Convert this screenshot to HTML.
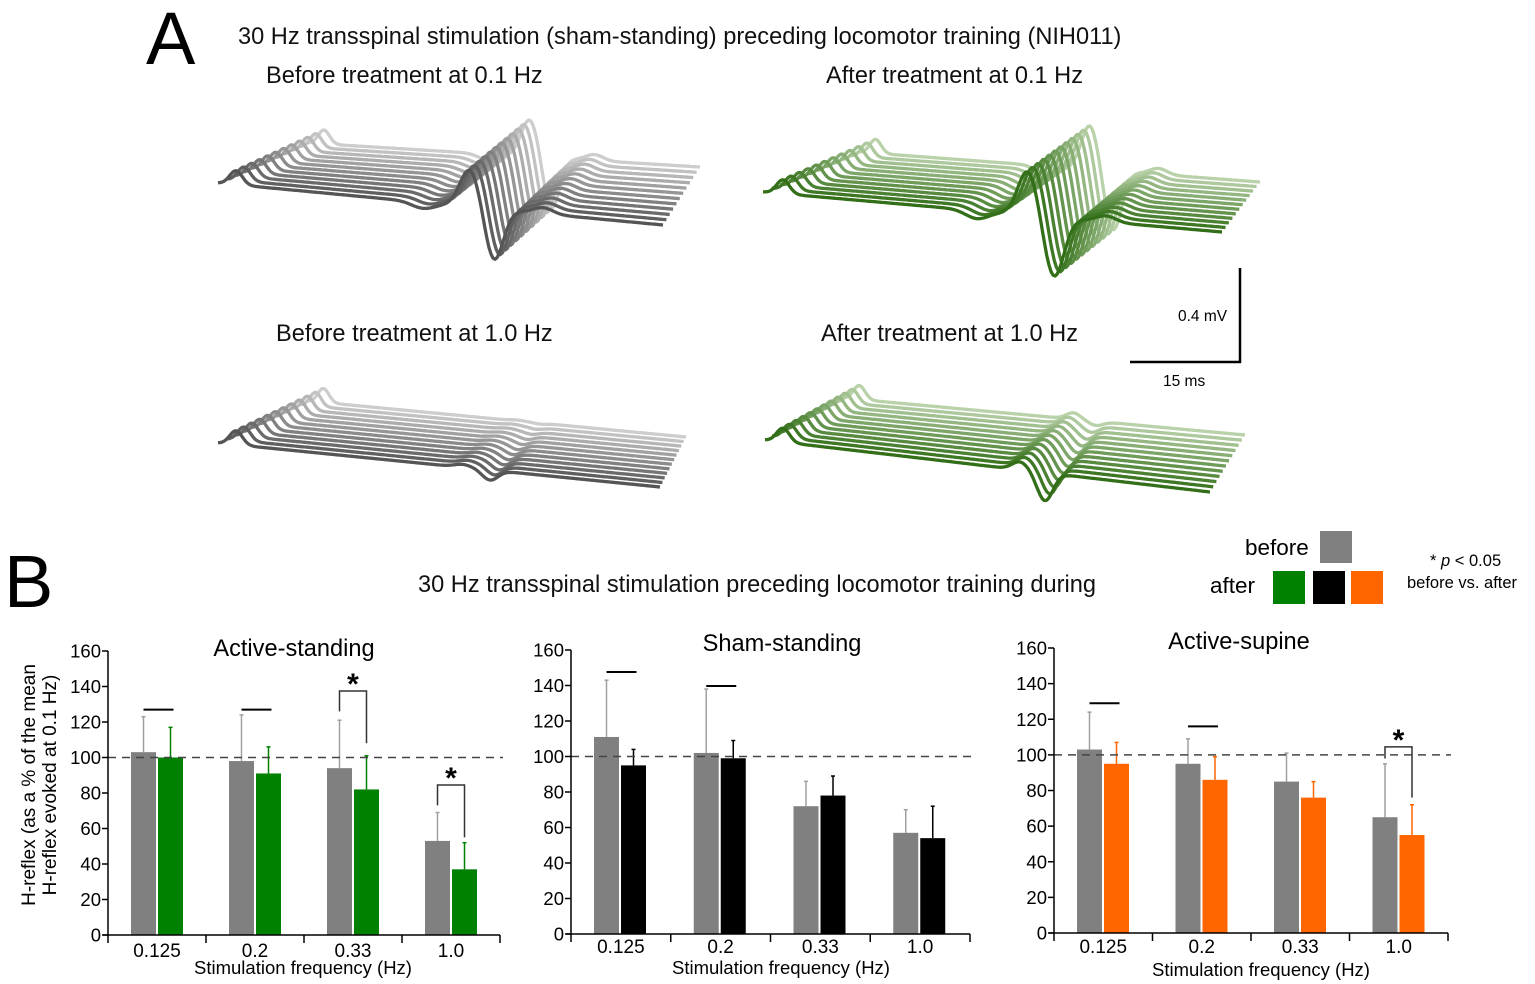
<!DOCTYPE html>
<html><head><meta charset="utf-8"><style>
html,body{margin:0;padding:0;background:#fff;}
svg{display:block;font-family:"Liberation Sans",Arial,sans-serif;}
</style></head><body>
<svg id="fig" width="1535" height="984" viewBox="0 0 1535 984" xmlns="http://www.w3.org/2000/svg">
<text x="146" y="64" font-size="74" fill="#000">A</text>
<text x="238" y="44" font-size="23.6" fill="#111">30 Hz transspinal stimulation (sham-standing) preceding locomotor training (NIH011)</text>
<text x="266" y="83" font-size="23.6" fill="#111">Before treatment at 0.1 Hz</text>
<text x="826" y="83" font-size="23.6" fill="#111">After treatment at 0.1 Hz</text>
<text x="276" y="341" font-size="23.6" fill="#111">Before treatment at 1.0 Hz</text>
<text x="821" y="341" font-size="23.6" fill="#111">After treatment at 1.0 Hz</text>
<g>
<line x1="1240" y1="268" x2="1240" y2="363" stroke="#000" stroke-width="2.5"/>
<line x1="1130" y1="362" x2="1241" y2="362" stroke="#000" stroke-width="2.5"/>
<text x="1178" y="321" font-size="15.5">0.4 mV</text>
<text x="1163" y="386" font-size="15.5">15 ms</text>
</g>
<g id="waves"></g>

<text x="4" y="607" font-size="74" fill="#000">B</text>
<text x="418" y="592" font-size="23.6" fill="#111">30 Hz transspinal stimulation preceding locomotor training during</text>
<g>
<text x="1245" y="555" font-size="22.5">before</text>
<rect x="1320" y="531" width="32" height="32" fill="#808080"/>
<text x="1210" y="593" font-size="22.5">after</text>
<rect x="1273" y="571" width="32" height="33" fill="#008000"/>
<rect x="1313" y="571" width="32" height="33" fill="#000"/>
<rect x="1351" y="571" width="32" height="33" fill="#ff6600"/>
<text x="1430" y="566" font-size="16.5">* <tspan font-style="italic">p</tspan> &lt; 0.05</text>
<text x="1407" y="588" font-size="16.5">before vs. after</text>
</g>
<g>
<text transform="translate(35,785) rotate(-90)" text-anchor="middle" font-size="19">H-reflex (as a % of the mean</text>
<text transform="translate(56,785) rotate(-90)" text-anchor="middle" font-size="19">H-reflex evoked at 0.1 Hz)</text>
</g>
<g id="charts"></g>
</svg>
<script>
const categories = ["0.125", "0.2", "0.33", "1.0"];
const yTickValues = [0, 20, 40, 60, 80, 100, 120, 140, 160];
const chartTitles = ["Active-standing", "Sham-standing", "Active-supine"];
const activeStandingBefore = [103, 98, 94, 53];
const activeStandingBeforeErr = [123, 124, 121, 69];
const activeStandingAfter = [100, 91, 82, 37];
const activeStandingAfterErr = [117, 106, 101, 52];
const shamStandingBefore = [111, 102, 72, 57];
const shamStandingBeforeErr = [143, 138, 86, 70];
const shamStandingAfter = [95, 99, 78, 54];
const shamStandingAfterErr = [104, 109, 89, 72];
const activeSupineBefore = [103, 95, 85, 65];
const activeSupineBeforeErr = [124, 109, 101, 95];
const activeSupineAfter = [95, 86, 76, 55];
const activeSupineAfterErr = [107, 99, 85, 72];
const activeStandingLines = [[0, 127], [1, 127]];
const shamStandingLines = [[0, 147.6], [1, 139.7]];
const activeSupineLines = [[0, 129], [1, 116]];
const activeStandingBrackets = [[2, 137.5, 126, 108], [3, 84.5, 73, 55]];
const shamStandingBrackets = [];
const activeSupineBrackets = [[3, 104.5, 98, 76]];

const NS = "http://www.w3.org/2000/svg";
function mk(parent, tag, attrs) {
  const e = document.createElementNS(NS, tag);
  for (const k in attrs) e.setAttribute(k, attrs[k]);
  parent.appendChild(e);
  return e;
}

const layouts = [
  {x0: 108, xe: 500, y0: 935, y160: 651, color: "#008000", titleX: 294, titleY: 656, xlabX: 303, xlabY: 974, catY: 957},
  {x0: 571, xe: 970, y0: 934, y160: 650, color: "#000000", titleX: 782, titleY: 651, xlabX: 781, xlabY: 974, catY: 953},
  {x0: 1054, xe: 1448, y0: 933, y160: 648, color: "#ff6600", titleX: 1239, titleY: 649, xlabX: 1261, xlabY: 976, catY: 953}
];
const befores = [activeStandingBefore, shamStandingBefore, activeSupineBefore];
const beforeErrs = [activeStandingBeforeErr, shamStandingBeforeErr, activeSupineBeforeErr];
const afters = [activeStandingAfter, shamStandingAfter, activeSupineAfter];
const afterErrs = [activeStandingAfterErr, shamStandingAfterErr, activeSupineAfterErr];
const lineSets = [activeStandingLines, shamStandingLines, activeSupineLines];
const bracketSets = [activeStandingBrackets, shamStandingBrackets, activeSupineBrackets];

const chartsG = document.getElementById("charts");
layouts.forEach((L, ci) => {
  const g = mk(chartsG, "g", {});
  
  
  const y = v => L.y0 - v * (L.y0 - L.y160) / 160;
  const step = (L.xe - L.x0) / categories.length;
  const bw = 25;
  const gx = i => L.x0 + i * step + 23;
  const cx = i => gx(i) + 27;
  const t = mk(g, "text", {x: L.titleX, y: L.titleY, "text-anchor": "middle", "font-size": 23.6});
  t.textContent = chartTitles[ci];
  
  
  categories.forEach((c, i) => {
    const b = befores[ci][i], a = afters[ci][i];
    const eb = beforeErrs[ci][i], ea = afterErrs[ci][i];
    const gc = gx(i) + bw / 2, ac = cx(i) + bw / 2;
    const e1 = mk(g, "line", {x1: gc, x2: gc, y1: y(b), y2: y(eb), stroke: "#a0a0a0", "stroke-width": 1.5});
    
    
    mk(g, "line", {x1: gc - 2, x2: gc + 2, y1: y(eb), y2: y(eb), stroke: "#a0a0a0", "stroke-width": 1.5});
    const e2 = mk(g, "line", {x1: ac, x2: ac, y1: y(a), y2: y(ea), stroke: L.color, "stroke-width": 1.5});
    
    
    mk(g, "line", {x1: ac - 2, x2: ac + 2, y1: y(ea), y2: y(ea), stroke: L.color, "stroke-width": 1.5});
    const r1 = mk(g, "rect", {x: gx(i), y: y(b), width: bw, height: y(0) - y(b), fill: "#808080"});
    
    
    const r2 = mk(g, "rect", {x: cx(i), y: y(a), width: bw, height: y(0) - y(a), fill: L.color});
    
    
    const lb = mk(g, "text", {x: L.x0 + (i + 0.5) * step, y: L.catY, "text-anchor": "middle", "font-size": 19});
    lb.textContent = c;
    
    
  });
  const d = mk(g, "line", {x1: L.x0, x2: L.xe + 3, y1: y(100), y2: y(100), stroke: "#444", "stroke-width": 1.5, "stroke-dasharray": "8,6"});
  
  
  const ya = mk(g, "line", {x1: L.x0, x2: L.x0, y1: y(0), y2: y(160), stroke: "#000", "stroke-width": 1.5});
  
  
  const xa = mk(g, "line", {x1: L.x0 - 5, x2: L.xe, y1: y(0), y2: y(0), stroke: "#000", "stroke-width": 1.5});
  
  
  for (let i = 0; i <= categories.length; i++) {
    mk(g, "line", {x1: L.x0 + i * step, x2: L.x0 + i * step, y1: y(0), y2: y(0) + 8, stroke: "#000", "stroke-width": 1.5});
  }
  yTickValues.forEach(v => {
    mk(g, "line", {x1: L.x0 - 6, x2: L.x0, y1: y(v), y2: y(v), stroke: "#000", "stroke-width": 1.5});
    const tl = mk(g, "text", {x: L.x0 - 7, y: y(v) + 6.5, "text-anchor": "end", "font-size": 18.5});
    tl.textContent = v;
    
    
  });
  const xl = mk(g, "text", {x: L.xlabX, y: L.xlabY, "text-anchor": "middle", "font-size": 18.5});
  xl.textContent = "Stimulation frequency (Hz)";
  
  
  lineSets[ci].forEach(([i, v]) => {
    const s = mk(g, "line", {x1: gx(i) + bw / 2, x2: cx(i) + bw / 2 + 3, y1: y(v), y2: y(v), stroke: "#000", "stroke-width": 2});
    
    
  });
  bracketSets[ci].forEach(([i, top, l, r]) => {
    const x1 = gx(i) + bw / 2, x2 = cx(i) + bw / 2;
    const p = mk(g, "path", {d: `M${x1},${y(l)}V${y(top)}H${x2}V${y(r)}`, fill: "none", stroke: "#333", "stroke-width": 1.5});
    
    
    const st = mk(g, "text", {x: (x1 + x2) / 2, y: y(top) + 3, "text-anchor": "middle", "font-size": 30, "font-weight": "bold"});
    st.textContent = "*";
    
    
  });
});

function lerpColor(a, b, f) {
  const pa = a.match(/\w\w/g).map(h => parseInt(h, 16)), pb = b.match(/\w\w/g).map(h => parseInt(h, 16));
  return "rgb(" + pa.map((v, i) => Math.round(v + (pb[i] - v) * f)).join(",") + ")";
}
const wavesG = document.getElementById("waves");
const panels = [
  {name: "before-01", s: [218, 183], e: [663, 225], L: [90, -40], R: [37, -58], c0: "555555", c1: "cdcdcd",
   feats: [[18, -14, 9, 1, 1], [205, 6, 16, 1, 1], [252, -38, 14, 1, 1], [276, 52, 13, 1, 1], [325, -6, 14, 1, 1]]},
  {name: "after-01", s: [763, 192], e: [1222, 232], L: [95, -40], R: [38, -50], c0: "336f18", c1: "b9d2aa",
   feats: [[20, -14, 9, 1, 1], [214, 8, 16, 1, 1], [265, -45, 14, 1, 1], [291, 60, 14, 1, 1], [343, -6, 14, 1, 1]]},
  {name: "before-10", s: [218, 443], e: [660, 487], L: [90, -42], R: [26, -50], c0: "555555", c1: "cdcdcd",
   feats: [[18, -14, 9, 1, 1], [245, -3, 12, 1, 0.3], [272, 10, 11, 1, 0.1]]},
  {name: "after-10", s: [765, 440], e: [1210, 492], L: [78, -42], R: [35, -57], c0: "336f18", c1: "b9d2aa",
   feats: [[18, -14, 9, 1, 1], [255, -8, 11, 1, 0.8], [280, 28, 11, 1, 0.15]]}
];
panels.forEach(P => {
  const g = mk(wavesG, "g", {});
  
  
  const n = 12, len = P.e[0] - P.s[0];
  for (let k = n - 1; k >= 0; k--) {
    const f = k / (n - 1);
    const sx = P.s[0] + P.L[0] * f, sy = P.s[1] + P.L[1] * f;
    const ex = P.e[0] + P.R[0] * f, ey = P.e[1] + P.R[1] * f;
    let d = "";
    for (let i = 0; i <= 220; i++) {
      const t = i / 220;
      let x = sx + (ex - sx) * t, yy = sy + (ey - sy) * t;
      P.feats.forEach(([pos, amp, w, a0, a1]) => {
        const tt = pos / len, ww = w / len;
        yy += amp * (a0 + (a1 - a0) * f) * Math.exp(-Math.pow((t - tt) / ww, 2));
      });
      d += (i ? "L" : "M") + x.toFixed(1) + "," + yy.toFixed(1);
    }
    const p = mk(g, "path", {d: d, fill: "none", stroke: lerpColor(P.c0, P.c1, f), "stroke-width": 3.3, "stroke-linejoin": "round"});
    
    
  }
});
</script>
</body></html>
